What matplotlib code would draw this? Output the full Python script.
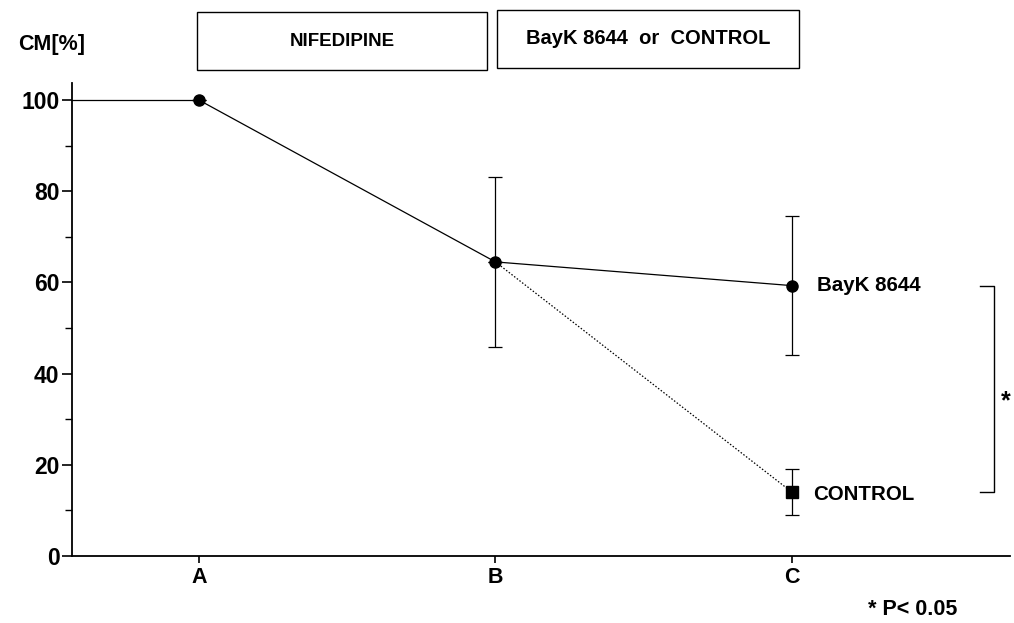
import matplotlib
matplotlib.use("Agg")
import matplotlib.pyplot as plt
from matplotlib.patches import Rectangle

plt.rcParams['font.family'] = ['Liberation Sans', 'DejaVu Sans']
plt.rcParams['font.weight'] = 'bold'

# stages and measured CM values (mean, SD)
stages = ['A', 'B', 'C']
stage_x = [1, 2, 3]
bayk_mean = [100, 64.5, 59.3]
bayk_sd = [0, 18.6, 15.2]
control_x = [2, 3]
control_mean = [64.5, 14.0]
control_sd = [0, 5.0]
y_ticks = [0, 20, 40, 60, 80, 100]
y_minor = [10, 30, 50, 70, 90]

fig = plt.figure(figsize=(10.14, 6.23), dpi=100)
ax = fig.add_axes([0.071, 0.1075, 0.925, 0.759])
ax.set_xlim(0.572, 3.735)
ax.set_ylim(0, 103.7)

for side in ('top', 'right'):
    ax.spines[side].set_visible(False)
for side in ('left', 'bottom'):
    ax.spines[side].set_linewidth(1.3)

# baseline before stage A
ax.plot([ax.get_xlim()[0], stage_x[0]], [bayk_mean[0], bayk_mean[0]],
        color='black', lw=0.9, clip_on=False)

# control branch (dotted)
ax.errorbar(control_x, control_mean, yerr=control_sd, color='black', lw=0.9,
            ls=(0, (1.2, 1.5)), marker='s', ms=8, mfc='black', mec='black',
            ecolor='black', elinewidth=0.9, capsize=5, capthick=0.9,
            markevery=[1], zorder=3)

# BayK 8644 branch (solid)
ax.errorbar(stage_x, bayk_mean, yerr=bayk_sd, color='black', lw=0.9,
            marker='o', ms=8, mfc='black', ecolor='black', elinewidth=0.9,
            capsize=5, capthick=0.9, zorder=4)

ax.set_yticks(y_ticks)
ax.set_yticks(y_minor, minor=True)
ax.set_xticks(stage_x)
ax.set_xticklabels(stages)
ax.tick_params(axis='y', which='major', length=7, width=1.2, labelsize=16.5, pad=2)
ax.tick_params(axis='y', which='minor', length=5, width=1.0)
ax.tick_params(axis='x', length=5, width=1.2, labelsize=15.5, pad=3)
for lbl in ax.get_xticklabels() + ax.get_yticklabels():
    lbl.set_fontweight('bold')

# series labels
ax.text(3.084, bayk_mean[2], 'BayK 8644', fontsize=14.8, fontweight='bold',
        va='center', ha='left')
ax.text(3.071, control_mean[1] - 0.6, 'CONTROL', fontsize=14.8, fontweight='bold',
        va='center', ha='left')

# significance bracket
bx0, bx1 = 3.634, 3.681
ax.plot([bx0, bx1, bx1, bx0],
        [bayk_mean[2], bayk_mean[2], control_mean[1], control_mean[1]],
        color='black', lw=1.0, clip_on=False)
ax.text(3.722, 34.0, '*', fontsize=18, fontweight='bold', ha='center',
        va='center', clip_on=False)

# axis title and treatment boxes
fig.text(0.018, 0.928, 'CM[%]', fontsize=15.5, fontweight='bold', va='center')
boxes = [(197, 487, 12, 70, 'NIFEDIPINE'),
         (497, 799, 10, 68, 'BayK 8644  or  CONTROL')]
W, H = 1014, 623
for x0, x1, y0, y1, label in boxes:
    fig.patches.append(Rectangle((x0 / W, 1 - y1 / H), (x1 - x0) / W,
                                 (y1 - y0) / H, transform=fig.transFigure,
                                 fill=False, ec='black', lw=1.0))
for (x0, x1, y0, y1, label), fs in zip(boxes, [13.5, 14.5]):
    fig.text((x0 + x1) / 2 / W, 1 - (y0 + y1) / 2 / H, label, fontsize=fs,
             fontweight='bold', ha='center', va='center')

fig.text(0.856, 0.022, '* P< 0.05', fontsize=15.5, fontweight='bold',
         ha='left', va='center')

fig.savefig('out.png', dpi=100)
